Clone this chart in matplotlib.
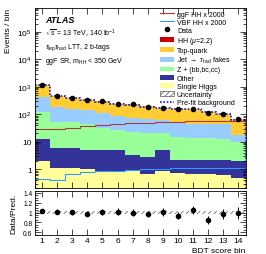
import numpy as np
import matplotlib
matplotlib.use("Agg")
import matplotlib.pyplot as plt
from matplotlib.ticker import FuncFormatter, LogLocator, MultipleLocator
from matplotlib.patches import Patch
from matplotlib.lines import Line2D

plt.rcParams['font.family'] = ['Liberation Sans', 'DejaVu Sans']
plt.rcParams['mathtext.fontset'] = 'custom'
plt.rcParams['mathtext.rm'] = 'Liberation Sans'
plt.rcParams['mathtext.it'] = 'Liberation Sans:italic'
plt.rcParams['hatch.linewidth'] = 0.5

# BDT score bins
bins = np.arange(1, 15)
edges = np.arange(0.5, 15.0, 1.0)

# cumulative stack levels (events / bin)
single_higgs = [2.0, 1.15, 1.15, 1.0, 0.85, 0.85, 0.85, 0.7, 0.85, 0.75, 0.7, 0.65, 0.6, 0.5]
other_top = [12.2, 5.8, 5.8, 5.0, 5.0, 5.0, 3.3, 2.9, 5.0, 2.2, 2.2, 2.2, 2.1, 2.0]
zhf_top = [125, 53, 52, 46, 31, 26.5, 23, 20, 20, 15.3, 13.3, 13.3, 13, 10]
fakes_top = [430, 187, 162, 141, 112, 85, 75, 70, 62, 54, 46, 46, 45, 17.5]
top_top = [1154, 461, 396, 327, 294, 241, 227, 193, 174, 162, 154, 126, 105, 67]
hh_sig = [0.06, 0.06, 0.07, 0.08, 0.09, 0.1, 0.1, 0.11, 0.11, 0.12, 0.12, 0.12, 0.12, 0.12]
prefit = [1160, 455, 392, 322, 290, 240, 223, 190, 172, 158, 150, 122, 103, 64]

ggf_x2000 = [29, 28, 32, 37, 42, 44, 48, 50, 52, 54, 55, 55, 56, 57]
vbf_x2000 = [0.45, 0.4, 0.68, 0.82, 0.85, 0.87, 0.95, 0.98, 1.0, 1.15, 1.1, 1.1, 1.1, 1.1]

data = [1200, 470, 400, 320, 300, 246, 227, 187, 176, 152, 162, 107, 102, 66]
ratio = [1.04, 1.02, 1.01, 0.98, 1.02, 1.02, 1.0, 0.97, 1.01, 0.94, 1.05, 0.85, 0.97, 0.99]
ratio_err = [0.03, 0.045, 0.05, 0.055, 0.06, 0.065, 0.065, 0.07, 0.075, 0.08, 0.08, 0.09, 0.1, 0.12]
unc = [0.025, 0.025, 0.025, 0.025, 0.025, 0.025, 0.025, 0.025, 0.025, 0.03, 0.03, 0.03, 0.03, 0.035]

c_top = '#ffcc33'
c_fake = '#99ccff'
c_zhf = '#99ff99'
c_other = '#333399'
c_sh = '#ffff99'
c_hh = '#cc0000'
c_ggf = '#b03a3a'
c_vbf = '#3399ff'
c_pre = '#1a1acc'

fig = plt.figure(figsize=(2.66, 2.55), dpi=100)
ax = fig.add_axes([0.130, 0.257, 0.794, 0.708])
rx = fig.add_axes([0.130, 0.076, 0.794, 0.173])

total = np.array(top_top) + np.array(hh_sig)
levels = [
    (np.zeros(14), single_higgs, c_sh),
    (single_higgs, other_top, c_other),
    (other_top, zhf_top, c_zhf),
    (zhf_top, fakes_top, c_fake),
    (fakes_top, top_top, c_top),
    (top_top, total, c_hh),
]
for lo, hi, col in levels:
    ax.stairs(hi, edges, baseline=np.maximum(np.array(lo), 1e-3), fill=True, color=col, lw=0)

u = np.array(unc)
ax.stairs(total * (1 + u), edges, baseline=total * (1 - u), fill=True, facecolor='none',
          edgecolor='#555555', hatch='//////', lw=0)
ax.stairs(ggf_x2000, edges, color=c_ggf, lw=0.8)
ax.stairs(vbf_x2000, edges, color=c_vbf, lw=0.8)
ax.stairs(prefit, edges, color=c_pre, lw=1.2, ls=(0, (1, 1)))
ax.errorbar(bins, data, yerr=np.sqrt(data), fmt='o', color='k', ms=3, lw=0.7, capsize=0)

ax.set_yscale('log')
ax.set_xlim(0.5, 14.5)
ax.set_ylim(0.2, 7.4e5)


def logfmt(v, pos):
    if abs(v - 1) < 1e-9:
        return '1'
    if abs(v - 10) < 1e-9:
        return '10'
    return r'$10^{%d}$' % int(round(np.log10(v)))


ax.yaxis.set_major_locator(LogLocator(base=10, numticks=10))
ax.yaxis.set_minor_locator(LogLocator(base=10, subs=np.arange(2, 10), numticks=20))
ax.yaxis.set_major_formatter(FuncFormatter(logfmt))
ax.yaxis.set_minor_formatter(FuncFormatter(lambda v, p: ''))
ax.set_xticks(bins)
ax.tick_params(labelbottom=False)
ax.set_ylabel('Events / bin', loc='top', fontsize=6)

for a in (ax, rx):
    a.tick_params(which='both', direction='in', top=True, right=True, labelsize=6, pad=2)
    a.tick_params(which='major', length=4, width=0.5)
    a.tick_params(which='minor', length=2, width=0.5)
    for s in a.spines.values():
        s.set_linewidth(0.6)
rx.tick_params(axis='y', labelsize=4.8, pad=1.5)

ax.text(0.05, 0.935, 'ATLAS', transform=ax.transAxes, fontsize=6.5,
        fontweight='bold', style='italic', va='center')
ax.text(0.05, 0.86, r'$\sqrt{s}$ = 13 TeV, 140 fb$^{-1}$', transform=ax.transAxes,
        fontsize=5, va='center')
ax.text(0.05, 0.785, r'$\tau_{\rm lep}\tau_{\rm had}$ LTT, 2 b-tags', transform=ax.transAxes,
        fontsize=5, va='center')
ax.text(0.05, 0.71, r'ggF SR, m$_{\rm HH}$ < 350 GeV', transform=ax.transAxes,
        fontsize=5, va='center')

handles = [
    Line2D([], [], color=c_ggf, lw=0.8),
    Line2D([], [], color=c_vbf, lw=0.8),
    Line2D([], [], color='k', marker='o', ms=3, lw=0),
    Patch(facecolor=c_hh, lw=0),
    Patch(facecolor=c_top, lw=0),
    Patch(facecolor=c_fake, lw=0),
    Patch(facecolor=c_zhf, lw=0),
    Patch(facecolor=c_other, lw=0),
    Patch(facecolor=c_sh, lw=0),
    Patch(facecolor='white', edgecolor='#555555', hatch='//////', lw=0.5),
    Line2D([], [], color=c_pre, lw=1.2, ls=(0, (1, 1))),
]
labels = ['ggF HH x 2000', 'VBF HH x 2000', 'Data', r'HH ($\mu$=2.2)', 'Top-quark',
          r'Jet $\rightarrow$ $\tau_{\rm had}$ fakes', 'Z + (bb,bc,cc)', 'Other',
          'Single Higgs', 'Uncertainty', 'Pre-fit background']
ax.legend(handles, labels, loc='upper left', bbox_to_anchor=(0.595, 0.985), frameon=False,
          fontsize=5, handlelength=2.0, handleheight=0.7, handletextpad=0.4,
          labelspacing=0.16, borderpad=0, borderaxespad=0)

# ratio panel
r = np.array(ratio)
rx.stairs(1 + u, edges, baseline=1 - u, fill=True, facecolor='none',
          edgecolor='#555555', hatch='//////', lw=0)
rx.errorbar(bins, r, yerr=ratio_err, fmt='o', color='k', ms=3, lw=0.7, capsize=0)
rx.set_xlim(0.5, 14.5)
rx.set_ylim(0.55, 1.45)
rx.set_yticks([0.6, 0.8, 1.0, 1.2, 1.4])
rx.set_yticklabels(['0.6', '0.8', '1', '1.2', '1.4'])
rx.yaxis.set_minor_locator(MultipleLocator(0.05))
rx.set_xticks(bins)
rx.set_xticklabels([str(b) for b in bins])
rx.set_ylabel('Data/Pred.', fontsize=6)
rx.set_xlabel('BDT score bin', loc='right', fontsize=6, labelpad=2)
fig.align_ylabels([ax, rx])

fig.savefig('out.png', dpi=100)
